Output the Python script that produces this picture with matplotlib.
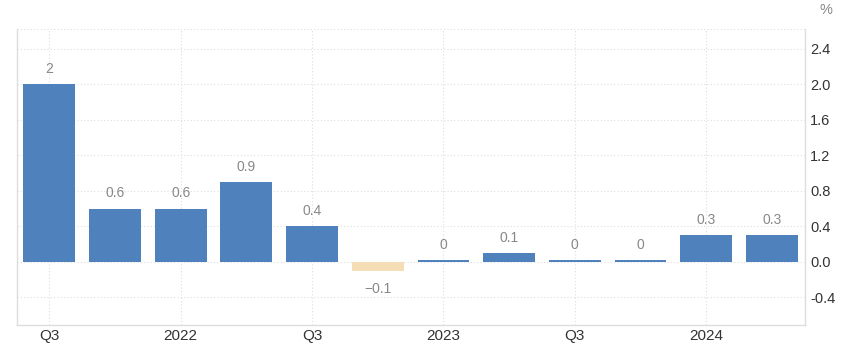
import matplotlib
matplotlib.use("Agg")
import matplotlib.pyplot as plt
import numpy as np

values = [2.0, 0.6, 0.6, 0.9, 0.4, -0.1, 0.0, 0.1, 0.0, 0.0, 0.3, 0.3]
value_labels = ["2", "0.6", "0.6", "0.9", "0.4", "-0.1", "0", "0.1", "0", "0", "0.3", "0.3"]
tick_labels = ["Q3", "2022", "Q3", "2023", "Q3", "2024"]
yticks = [-0.4, 0.0, 0.4, 0.8, 1.2, 1.6, 2.0, 2.4]

plt.rcParams['font.family'] = ['Liberation Sans', 'DejaVu Sans']

fig = plt.figure(figsize=(8.48, 3.49), dpi=100)
ax = fig.add_axes([0.0195, 0.0688, 0.9295, 0.8482])

x = np.arange(len(values))
heights = [v if v != 0 else 0.022 for v in values]
colors = ["#4F81BD" if v >= 0 else "#F5DDB5" for v in values]
ax.bar(x, heights, width=0.79, color=colors, zorder=3)

for xi, v, lab in zip(x, values, value_labels):
    if v < 0:
        ax.annotate(lab.replace("-", "\u2212"), (xi, v), xytext=(0, -8), textcoords="offset points",
                    ha="center", va="top", fontsize=10, color="#888888")
    else:
        h = v if v != 0 else 0.022
        ax.annotate(lab, (xi, h), xytext=(0, 6), textcoords="offset points",
                    ha="center", va="bottom", fontsize=10, color="#888888")

ax.set_xlim(-0.5, 11.5)
ax.set_ylim(-0.71, 2.62)

ax.set_xticks(x[::2])
ax.set_xticklabels(tick_labels, fontsize=11, color="#333333")
ax.yaxis.tick_right()
ax.set_yticks(yticks)
ax.set_yticklabels([f"{t:.1f}" for t in yticks], fontsize=10.5, color="#333333")
ax.tick_params(axis="both", length=0)
ax.tick_params(axis="y", pad=4)
ax.tick_params(axis="x", pad=3)

ax.grid(True, linestyle=(0, (1, 2)), color="#dedede", linewidth=0.8, zorder=0)
for s in ["left", "bottom", "right"]:
    ax.spines[s].set_color("#dddddd")
    ax.spines[s].set_linewidth(1.0)
ax.spines["top"].set_visible(False)
ax.axhline(ax.get_ylim()[1], color="#dedede", linestyle=(0, (1, 2)), linewidth=0.8)

fig.text(826 / 848, 1 - 10 / 349, "%", ha="center", va="center", fontsize=10.5, color="#888888")

fig.savefig("out.png", dpi=100)
